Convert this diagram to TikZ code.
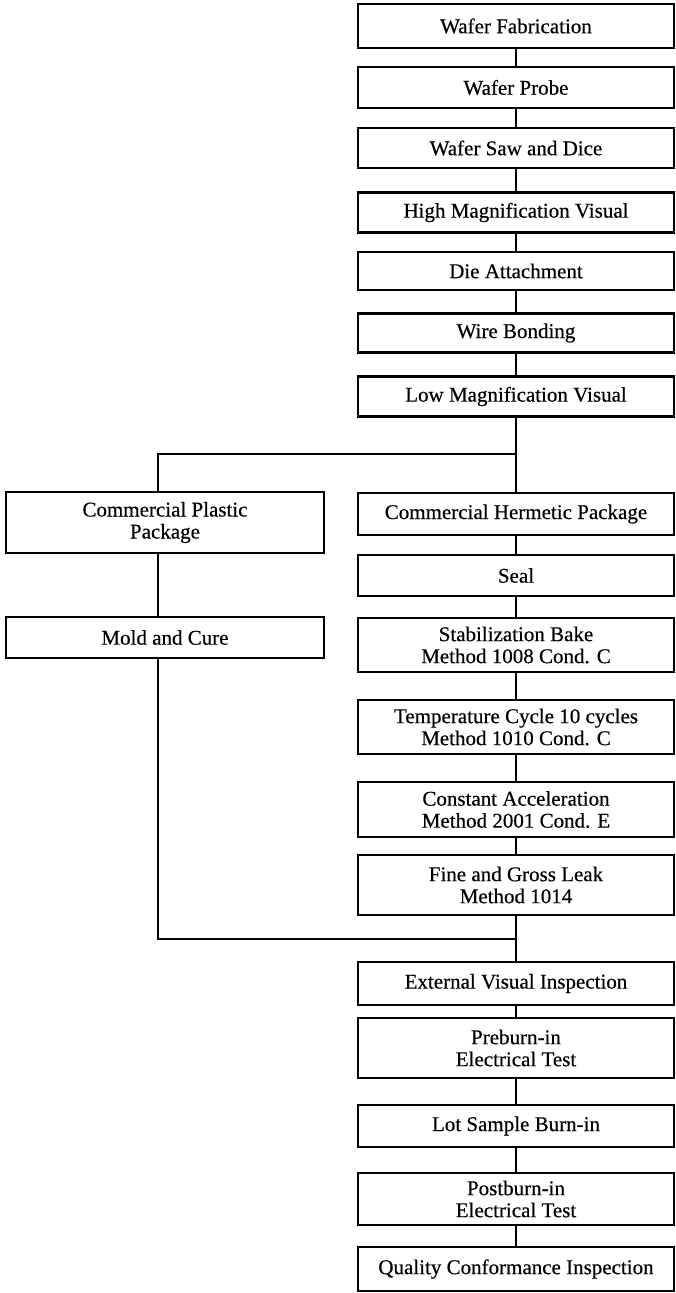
\documentclass[tikz,border=0pt]{standalone}
\usepackage{fontspec}
\setmainfont{Liberation Serif}[FakeBold=0.4]
\begin{document}
\begin{tikzpicture}[x=1pt,y=-1pt,
  box/.style={draw, line width=2.7pt, minimum width=316pt, inner sep=0pt, align=center,
    font=\fontsize{21}{22}\selectfont},
  lbox/.style={box, minimum width=318pt},
  conn/.style={line width=2.7pt, line join=miter}]
\useasboundingbox (0,0) rectangle (676,1293);
% right column
\node[box, minimum height=44pt] (wf) at (516,26) {Wafer Fabrication};
\node[box, minimum height=41pt] (wp) at (516,87.5) {Wafer Probe};
\node[box, minimum height=40pt] (ws) at (516,148) {Wafer Saw and Dice};
\node[box, minimum height=40pt] (hm) at (516,212.5) {High Magnification Visual};
\node[box, minimum height=38pt] (da) at (516,271) {Die Attachment};
\node[box, minimum height=39pt] (wb) at (516,333) {Wire Bonding};
\node[box, minimum height=40pt] (lm) at (516,396.5) {Low Magnification Visual};
\node[box, minimum height=42pt] (chp) at (516,514) {Commercial Hermetic Package};
\node[box, minimum height=41pt] (seal) at (516,575.5) {Seal};
\node[box, minimum height=54pt] (sb) at (516,645) {Stabilization Bake\\Method 1008 Cond. C};
\node[box, minimum height=54pt] (tc) at (516,727) {Temperature Cycle 10 cycles\\Method 1010 Cond. C};
\node[box, minimum height=55pt] (ca) at (516,809.5) {Constant Acceleration\\Method 2001 Cond. E};
\node[box, minimum height=60pt] (fg) at (516,885) {Fine and Gross Leak\\Method 1014};
\node[box, minimum height=43pt] (evi) at (516,983.5) {External Visual Inspection};
\node[box, minimum height=60pt] (pre) at (516,1048) {Preburn-in\\Electrical Test};
\node[box, minimum height=42pt] (lot) at (516,1126) {Lot Sample Burn-in};
\node[box, minimum height=52pt] (post) at (516,1199) {Postburn-in\\Electrical Test};
\node[box, minimum height=44pt] (qc) at (516,1269) {Quality Conformance Inspection};
% left column
\node[lbox, minimum height=61pt] (cpp) at (165,522.5) {Commercial Plastic\\Package};
\node[lbox, minimum height=41pt] (mc) at (165,637.5) {Mold and Cure};
% branch / join points
\coordinate (brR) at (516,454);
\coordinate (brL) at (158,454);
\coordinate (jR) at (516,939);
\coordinate (jL) at (158,939);
% connectors
\draw[conn] (wf) -- (wp);
\draw[conn] (wp) -- (ws);
\draw[conn] (ws) -- (hm);
\draw[conn] (hm) -- (da);
\draw[conn] (da) -- (wb);
\draw[conn] (wb) -- (lm);
\draw[conn] (lm.south) -- (brR) -- (chp.north);
\draw[conn] (brR) -- (brL) -- (brL |- cpp.north);
\draw[conn] (brL |- cpp.south) -- (brL |- mc.north);
\draw[conn] (brL |- mc.south) -- (jL) -- (jR);
\draw[conn] (chp) -- (seal);
\draw[conn] (seal) -- (sb);
\draw[conn] (sb) -- (tc);
\draw[conn] (tc) -- (ca);
\draw[conn] (ca) -- (fg);
\draw[conn] (fg.south) -- (jR) -- (evi.north);
\draw[conn] (evi) -- (pre);
\draw[conn] (pre) -- (lot);
\draw[conn] (lot) -- (post);
\draw[conn] (post) -- (qc);
\end{tikzpicture}
\end{document}
